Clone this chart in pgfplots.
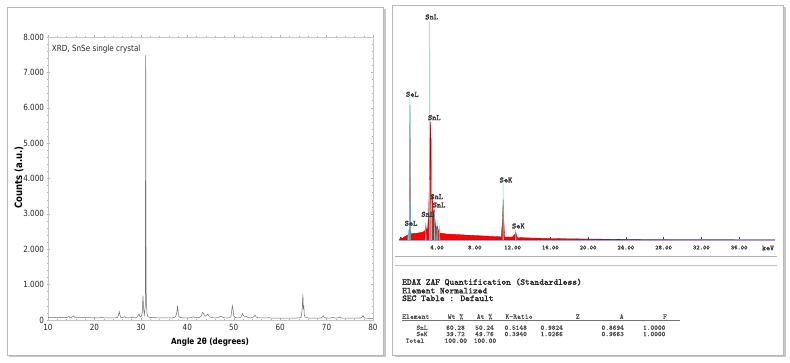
\documentclass[border=0pt]{standalone}
\usepackage{fontspec}
\usepackage{pgfplots}
\pgfplotsset{compat=1.18}
\newfontfamily\tah[FakeStretch=0.85]{DejaVu Sans}
\newfontfamily\courb[FakeBold=1.6]{Latin Modern Mono}
\newfontfamily\cour[FakeBold=0.5]{Latin Modern Mono}
\definecolor{cyanL}{RGB}{64,224,224}
\definecolor{lav}{RGB}{176,176,232}
\definecolor{xrdline}{RGB}{110,110,110}
\begin{document}
\begin{tikzpicture}[x=1pt,y=1pt]
\useasboundingbox (0,0) rectangle (790,363);
% frames
\fill[black!22] (9,6) rectangle (385.5,354);
\filldraw[fill=white,draw=gray!55,line width=0.6pt] (7,8) rectangle (383,356);
\fill[black!22] (394.5,6) rectangle (785.5,356);
\filldraw[fill=white,draw=gray!55,line width=0.6pt] (392,8) rectangle (783,358);
\draw[gray!60,line width=0.9pt] (395,107) -- (777,107);
\draw[gray!50,line width=0.5pt] (395,97.5) -- (777,97.5);

% ---------------- XRD ----------------
\begin{axis}[at={(48pt,43pt)},anchor=south west,scale only axis,
  width=325pt,height=283pt,
  xmin=10,xmax=80,ymin=0,ymax=8000,
  xtick={10,20,...,80},xticklabels={10,20,30,40,50,60,70,80},
  ytick={0,1000,...,8000},
  yticklabels={0,1.000,2.000,3.000,4.000,5.000,6.000,7.000,8.000},
  scaled y ticks=false,
  minor x tick num=4,minor y tick num=4,
  axis line style={gray!45,line width=0.5pt},
  tick style={gray!60,line width=0.4pt},
  major tick length=3pt,minor tick length=1.6pt,tick align=center,
  ticklabel style={font=\tah\fontsize{8.5}{9}\selectfont,text=black!85},
  xticklabel style={yshift=1pt},
  yticklabel style={xshift=1pt},
]
\addplot[xrdline,line width=0.5pt] coordinates {
(10,75)(10.5,72)(11,74)(11.5,70)(12,73)(12.5,71)(13,70)(13.5,72)(14,69)(14.5,100)(14.7,75)(15,68)(15.5,115)(15.8,72)(16,68)(16.5,66)(17,67)(17.5,64)(18,66)(18.5,63)(19,65)(19.5,62)(20,64)(20.5,62)(21,61)(21.5,70)(22,62)(22.5,60)(23,62)(23.5,60)(24,61)(24.5,62)(25,70)(25.2,150)(25.35,235)(25.5,140)(25.7,70)(26,64)(26.5,95)(26.8,66)(27,63)(27.5,62)(28,68)(28.3,85)(28.6,62)(29,65)(29.4,120)(29.6,170)(29.8,100)(30,80)(30.3,200)(30.45,690)(30.6,300)(30.75,150)(30.95,400)(31.05,7480)(31.12,900)(31.3,200)(31.5,100)(31.8,75)(32,70)(32.5,66)(33,64)(33.5,63)(34,62)(34.5,61)(35,63)(35.5,60)(36,60)(36.5,62)(37,64)(37.5,90)(37.8,250)(37.9,400)(38.05,200)(38.2,100)(38.5,70)(39,62)(39.5,60)(40,61)(40.5,63)(41,75)(41.3,90)(41.6,70)(42,66)(42.5,65)(43,110)(43.3,215)(43.5,190)(43.7,130)(44,110)(44.4,170)(44.6,120)(44.9,80)(45.3,65)(45.8,62)(46.3,60)(46.7,75)(47.2,105)(47.6,80)(48,62)(48.5,60)(49,62)(49.4,90)(49.7,400)(49.85,300)(50.0,120)(50.3,70)(50.8,60)(51.3,62)(51.6,90)(51.9,180)(52.1,120)(52.4,100)(52.7,110)(53,75)(53.5,62)(54,65)(54.4,100)(54.6,140)(54.8,90)(55.2,62)(55.8,58)(56.3,57)(56.8,58)(57.3,60)(57.6,68)(57.9,56)(58.5,55)(59,56)(59.5,55)(60,54)(60.5,55)(61,54)(61.5,53)(62,56)(62.5,54)(63,55)(63.5,56)(64,58)(64.5,70)(64.75,300)(64.9,735)(65.0,300)(65.1,410)(65.2,150)(65.4,80)(65.8,60)(66.3,54)(66.8,53)(67.3,52)(67.8,53)(68.3,52)(68.8,58)(69.2,100)(69.35,120)(69.5,80)(69.8,60)(70.3,55)(70.8,52)(71.3,75)(71.6,60)(72,55)(72.5,62)(72.8,85)(73.1,60)(73.6,52)(74,50)(74.5,51)(75,50)(75.5,52)(76,50)(76.5,51)(77,52)(77.6,70)(77.85,125)(78.1,60)(78.5,50)(79,49)(79.5,48)(80,48)
};
\end{axis}
\node[anchor=west,inner sep=0pt,font=\tah\fontsize{8.5}{9}\selectfont,text=black!85] at (51.7,313.7) {XRD, SnSe single crystal};
\node[rotate=90,inner sep=0pt,font=\tah\fontsize{10}{11}\selectfont\bfseries] at (19,185.5) {Counts (a.u.)};
\node[inner sep=0pt,font=\tah\fontsize{8.5}{9}\selectfont\bfseries] at (210,21) {Angle 2θ (degrees)};

% ---------------- EDS ----------------
\begin{axis}[at={(399.3pt,123pt)},anchor=south west,scale only axis,
  width=375.7pt,height=230pt,
  xmin=0,xmax=39.8,ymin=0,ymax=230,clip=false,
  axis x line*=bottom,hide y axis,x axis line style={draw=none},
  xtick={4,8,...,36},
  xticklabels={4.00,8.00,12.00,16.00,20.00,24.00,28.00,32.00,36.00},
  xtick align=inside,major tick length=2.5pt,
  tick style={gray!50!black,line width=0.4pt},
  xticklabel style={anchor=center,yshift=-7.5pt,font=\courb\fontsize{6.3}{7}\selectfont,text=black!75},
]
\addplot[lav,line width=2.2pt] coordinates {(0,0)(39.8,0)};
\addplot[fill=red,draw=red!70!black,line width=0.3pt] coordinates {
(0,0)(0.15,3)(0.3,1.5)(0.5,3)(0.8,4.5)(1.0,5.5)(1.08,12)(1.13,135)(1.18,12)(1.25,6)(1.5,6.5)(2.0,7)(2.5,8)(2.7,9)(2.8,14)(2.9,9)(3.0,12)(3.1,25)(3.2,60)(3.3,118)(3.38,60)(3.45,40)(3.52,45)(3.6,25)(3.7,30)(3.8,18)(3.9,12)(4.05,14)(4.15,9)(4.3,7)(5,6)(6,5.5)(7,5)(8,4.5)(9,4)(10,3.5)(10.8,3.2)(10.93,20)(11.0,40)(11.07,20)(11.15,3)(12.0,3)(12.25,6)(12.33,8)(12.41,5)(12.5,2.5)(14,2)(16,1.5)(18,1.2)(20,1)(22,0.8)(24,0.5)(26,0.3)(39.8,0)
} \closedcycle;
\addplot[cyanL,line width=0.5pt,unbounded coords=jump] coordinates {
(0.9,0)(0.95,10)(1.0,0) (nan,nan)
(1.09,0)(1.13,143)(1.17,0) (nan,nan)
(2.76,0)(2.8,17)(2.84,0) (nan,nan)
(3.18,0)(3.22,218)(3.26,0) (nan,nan)
(3.37,0)(3.41,102)(3.45,0) (nan,nan)
(3.71,0)(3.75,28)(3.79,0) (nan,nan)
(3.96,0)(4.0,20)(4.04,0) (nan,nan)
(4.21,0)(4.25,14)(4.29,0) (nan,nan)
(10.96,0)(11.0,57)(11.04,0) (nan,nan)
(12.29,0)(12.33,10)(12.37,0)
};
\addplot[red!70!black,line width=0.35pt] coordinates {(3.24,60)(3.3,118)(3.36,60)};
\begin{scope}[every node/.style={inner sep=0pt,font=\courb\fontsize{8}{9}\selectfont,text=black!80}]
\node at (axis cs:3.43,223) {SnL};
\node at (axis cs:1.38,145.7) {SeL};
\node at (axis cs:3.71,122.3) {SnL};
\node at (axis cs:3.96,43.3) {SnL};
\node at (axis cs:4.21,35) {SnL};
\node at (axis cs:3.01,25.7) {SnL};
\node at (axis cs:1.24,16.7) {SeL};
\node at (axis cs:11.30,60) {SeK};
\node at (axis cs:12.61,14) {SeK};
\end{scope}
\end{axis}
\node[inner sep=0pt,font=\courb\fontsize{7.5}{8}\selectfont,text=black!80] at (768,115) {keV};

% ---------------- table ----------------
\begin{scope}[every node/.style={inner sep=0pt,anchor=west,font=\courb\fontsize{9}{10}\selectfont,text=black!85}]
\node at (402,80.7) {EDAX ZAF Quantification (Standardless)};
\node at (402,72.3) {Element Normalized};
\node at (402,64.7) {SEC Table : Default};
\end{scope}
\begin{scope}[every node/.style={inner sep=0pt,font=\cour\fontsize{7.3}{8}\selectfont,text=black!70}]
\node[anchor=west] at (402,46.3) {Element};
\node at (455.5,46.3) {Wt \%};
\node at (484.5,46.3) {At \%};
\node at (519,46.3) {K-Ratio};
\node at (577.7,46.3) {Z};
\node at (621.7,46.3) {A};
\node at (665,46.3) {F};
\end{scope}
\draw[black!55,line width=0.4pt] (402,42.3) -- (680,42.3);
\begin{scope}[every node/.style={inner sep=0pt,font=\cour\fontsize{7}{8}\selectfont,text=black!70}]
\node at (422,35.3) {SnL};
\node at (455.5,35.3) {60.28};
\node at (484.5,35.3) {50.24};
\node at (515.7,35.3) {0.5148};
\node at (551.7,35.3) {0.9824};
\node at (612.7,35.3) {0.8694};
\node at (654.2,35.3) {1.0000};
\node at (422,29) {SeK};
\node at (455.5,29) {39.72};
\node at (484.5,29) {49.76};
\node at (515.7,29) {0.3940};
\node at (551.7,29) {1.0266};
\node at (612.7,29) {0.9663};
\node at (654.2,29) {1.0000};
\node at (415,22.3) {Total};
\node at (455.8,22.3) {100.00};
\node at (485,22.3) {100.00};
\end{scope}
\end{tikzpicture}
\end{document}
